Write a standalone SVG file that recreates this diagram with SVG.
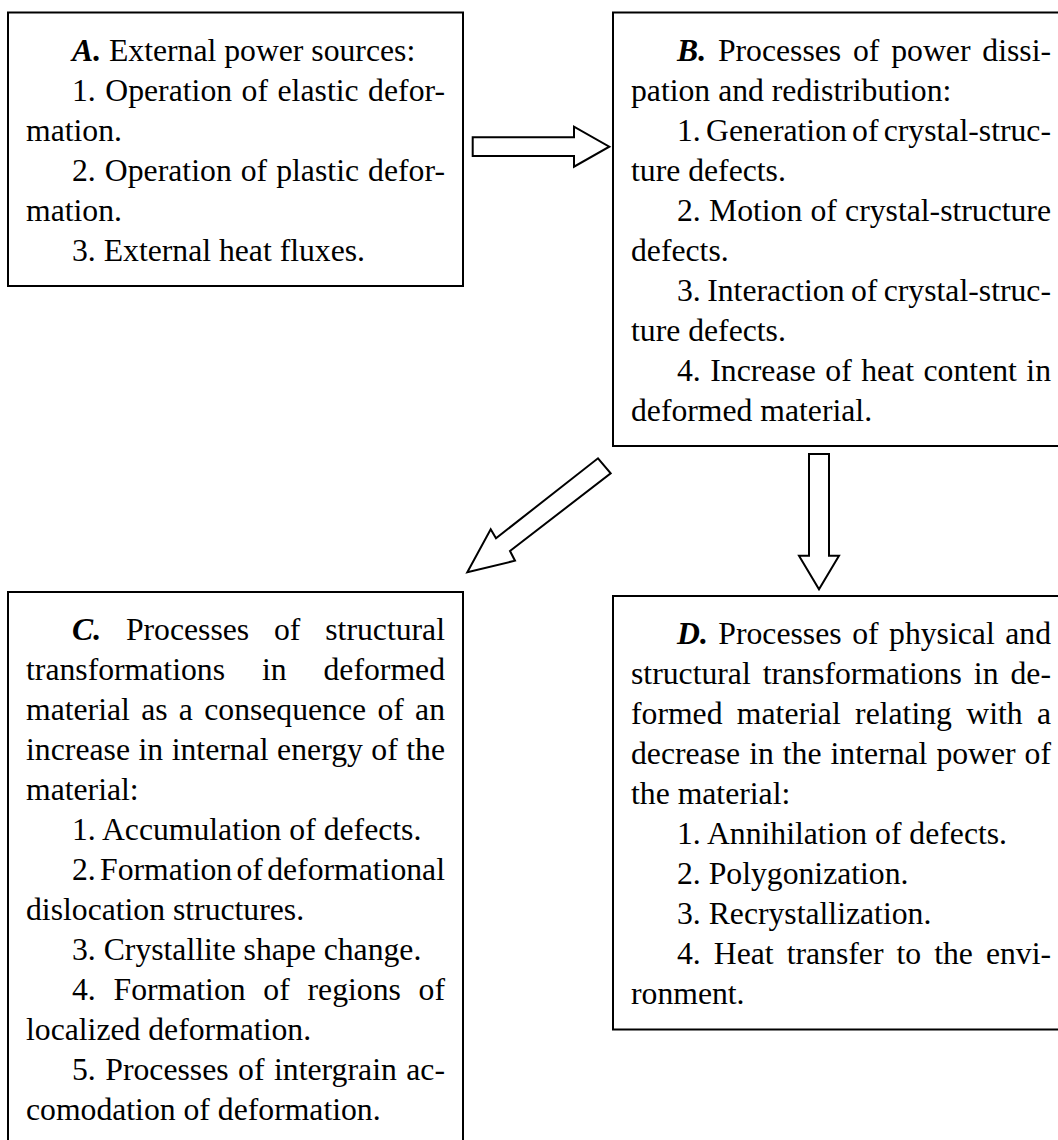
<svg xmlns="http://www.w3.org/2000/svg" width="1058" height="1140" viewBox="0 0 1058 1140">
<style>
  .box { fill: #fff; stroke: #000; stroke-width: 2; }
  .arr { fill: #fff; stroke: #000; stroke-width: 2; stroke-linejoin: miter; }
  text { font-family: "Liberation Serif", "Times New Roman", serif; font-size: 31.7px; fill: #000; }
  .h { font-weight: bold; font-style: italic; }
</style>
<rect width="1058" height="1140" fill="#fff"/>

<g id="connectors">
  <polygon class="arr" points="472.7,137.3 574,137.3 574,126.7 609.3,146.7 574,166.7 574,156 472.7,156"/>
  <polygon class="arr" points="809,454 829,454 829,555.7 839,555.7 819,589.3 799,555.7 809,555.7"/>
  <polygon class="arr" points="598,458.3 610.7,473.3 510,551 515,560.7 467.3,572.3 490.7,529.3 496,538.3"/>
</g>

<g id="nodeA">
  <rect class="box" x="8" y="12.5" width="455" height="273.5"/>
  <text x="72" y="60.5"><tspan class="h">A.</tspan> External power sources:</text>
  <text x="72" y="100.5" textLength="373" lengthAdjust="spacing" word-spacing="1.5">1. Operation of elastic defor-</text>
  <text x="26" y="140.5">mation.</text>
  <text x="72" y="180.5" textLength="373" lengthAdjust="spacing" word-spacing="1">2. Operation of plastic defor-</text>
  <text x="26" y="220.5">mation.</text>
  <text x="72" y="260.5">3. External heat fluxes.</text>
</g>

<g id="nodeB">
  <rect class="box" x="613" y="12.5" width="460" height="433.5"/>
  <text x="677" y="60.5" textLength="374" lengthAdjust="spacing" word-spacing="3.9"><tspan class="h">B.</tspan> Processes of power dissi-</text>
  <text x="631" y="100.5">pation and redistribution:</text>
  <text x="677" y="140.5" textLength="374" lengthAdjust="spacing" word-spacing="-2.7">1. Generation of crystal-struc-</text>
  <text x="631" y="180.5">ture defects.</text>
  <text x="677" y="220.5" textLength="374" lengthAdjust="spacing" word-spacing="0.3">2. Motion of crystal-structure</text>
  <text x="631" y="260.5">defects.</text>
  <text x="677" y="300.5" textLength="374" lengthAdjust="spacing" word-spacing="-1.5">3. Interaction of crystal-struc-</text>
  <text x="631" y="340.5">ture defects.</text>
  <text x="677" y="380.5" textLength="374" lengthAdjust="spacing" word-spacing="1.5">4. Increase of heat content in</text>
  <text x="631" y="420.5">deformed material.</text>
</g>

<g id="nodeC">
  <rect class="box" x="8" y="592" width="455" height="570"/>
  <text x="72" y="640" textLength="373" lengthAdjust="spacing" word-spacing="16.9"><tspan class="h">C.</tspan> Processes of structural</text>
  <text x="26" y="680" textLength="419" lengthAdjust="spacing" word-spacing="29">transformations in deformed</text>
  <text x="26" y="720" textLength="419" lengthAdjust="spacing" word-spacing="3.4">material as a consequence of an</text>
  <text x="26" y="760" textLength="419" lengthAdjust="spacing" word-spacing="0.5">increase in internal energy of the</text>
  <text x="26" y="800">material:</text>
  <text x="72" y="840">1. Accumulation of defects.</text>
  <text x="72" y="880" textLength="373" lengthAdjust="spacing" word-spacing="-3.6">2. Formation of deformational</text>
  <text x="26" y="920">dislocation structures.</text>
  <text x="72" y="960">3. Crystallite shape change.</text>
  <text x="72" y="1000" textLength="373" lengthAdjust="spacing" word-spacing="9.8">4. Formation of regions of</text>
  <text x="26" y="1040">localized deformation.</text>
  <text x="72" y="1080" textLength="373" lengthAdjust="spacing" word-spacing="1.5">5. Processes of intergrain ac-</text>
  <text x="26" y="1120">comodation of deformation.</text>
</g>

<g id="nodeD">
  <rect class="box" x="613" y="596" width="460" height="433.5"/>
  <text x="677" y="644" textLength="374" lengthAdjust="spacing" word-spacing="2.6"><tspan class="h">D.</tspan> Processes of physical and</text>
  <text x="631" y="684" textLength="420" lengthAdjust="spacing" word-spacing="4.1">structural transformations in de-</text>
  <text x="631" y="724" textLength="420" lengthAdjust="spacing" word-spacing="6.4">formed material relating with a</text>
  <text x="631" y="764" textLength="420" lengthAdjust="spacing" word-spacing="1.1">decrease in the internal power of</text>
  <text x="631" y="804">the material:</text>
  <text x="677" y="844">1. Annihilation of defects.</text>
  <text x="677" y="884">2. Polygonization.</text>
  <text x="677" y="924">3. Recrystallization.</text>
  <text x="677" y="964" textLength="374" lengthAdjust="spacing" word-spacing="5.1">4. Heat transfer to the envi-</text>
  <text x="631" y="1004">ronment.</text>
</g>
</svg>
